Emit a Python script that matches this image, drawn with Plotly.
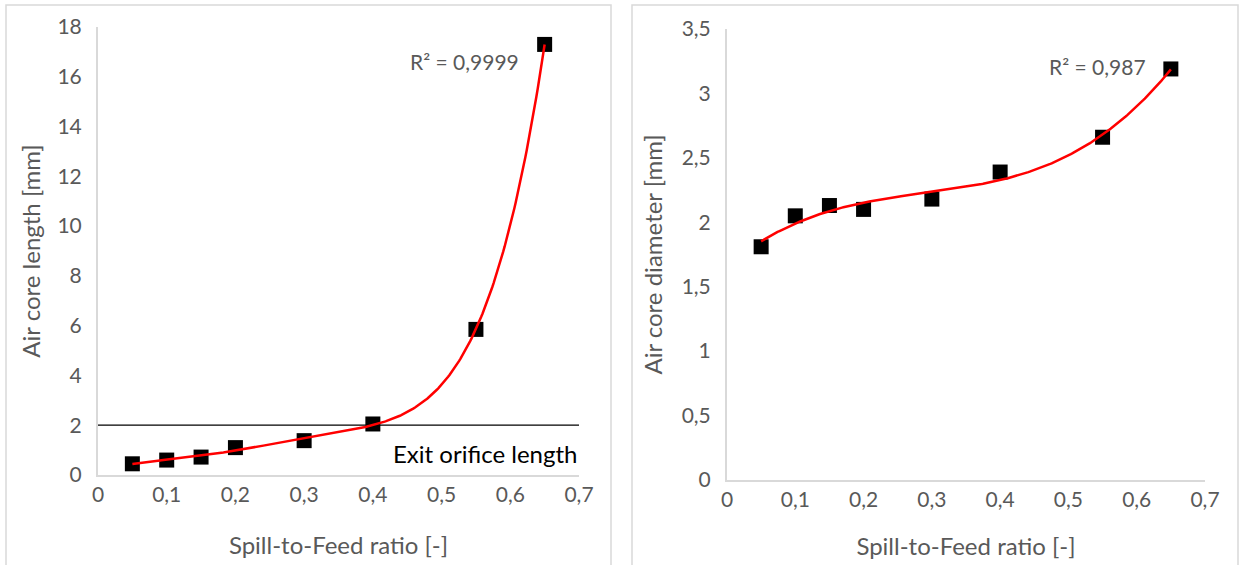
import numpy as np
import plotly.graph_objects as go

# Data
spill_ratio = [0.05, 0.10, 0.15, 0.20, 0.30, 0.40, 0.55, 0.65]
air_core_length = [0.45, 0.60, 0.72, 1.10, 1.38, 2.05, 5.85, 17.30]
air_core_diameter = [1.81, 2.05, 2.13, 2.10, 2.18, 2.39, 2.66, 3.19]
exit_orifice_length = 2.0
r2_left = "R² = 0,9999"
r2_right = "R² = 0,987"
x_ticks = [0, 0.1, 0.2, 0.3, 0.4, 0.5, 0.6, 0.7]
x_ticktext = ["0", "0,1", "0,2", "0,3", "0,4", "0,5", "0,6", "0,7"]
yl_ticks = [0, 2, 4, 6, 8, 10, 12, 14, 16, 18]
yr_ticks = [0, 0.5, 1, 1.5, 2, 2.5, 3, 3.5]
yr_ticktext = ["0", "0,5", "1", "1,5", "2", "2,5", "3", "3,5"]

W, H = 1239, 565
FONT = "Lato"
GRAY = "#595959"
AXIS = "#d9d9d9"

def px(x):
    return x / W

def py(y):
    return 1 - y / H

def fit(x, y, deg):
    c = np.polyfit(x, y, deg)
    xs = np.linspace(min(x), max(x), 300)
    return xs, np.polyval(c, xs)

xl, yl = fit(spill_ratio, air_core_length, 5)   # polynomial trendline, R² ≈ 0.9999
xr, yr = fit(spill_ratio, air_core_diameter, 3)  # cubic trendline, R² ≈ 0.987

fig = go.Figure()

# left panel
fig.add_trace(go.Scatter(x=[0, 0.7], y=[exit_orifice_length, exit_orifice_length], mode="lines",
                         line=dict(color="black", width=1.3), xaxis="x", yaxis="y", showlegend=False))
fig.add_trace(go.Scatter(x=spill_ratio, y=air_core_length, mode="markers",
                         marker=dict(symbol="square", size=15, color="black"),
                         xaxis="x", yaxis="y", showlegend=False))
fig.add_trace(go.Scatter(x=xl, y=yl, mode="lines", line=dict(color="#ff0000", width=2.5),
                         xaxis="x", yaxis="y", showlegend=False))

# right panel
fig.add_trace(go.Scatter(x=spill_ratio, y=air_core_diameter, mode="markers",
                         marker=dict(symbol="square", size=15, color="black"),
                         xaxis="x2", yaxis="y2", showlegend=False))
fig.add_trace(go.Scatter(x=xr, y=yr, mode="lines", line=dict(color="#ff0000", width=2.5),
                         xaxis="x2", yaxis="y2", showlegend=False))

tickfont = dict(family=FONT, size=21, color=GRAY)
titlefont = dict(family=FONT, size=24, color=GRAY)

common_x = dict(range=[0, 0.7], tickvals=x_ticks, ticktext=x_ticktext,
                showgrid=False, zeroline=False, showline=True, linecolor=AXIS, linewidth=2,
                ticks="", tickfont=tickfont, automargin=False)
common_y = dict(showgrid=False, zeroline=False, showline=True, linecolor=AXIS, linewidth=2,
                ticks="", tickfont=tickfont, ticklabelstandoff=10, automargin=False)

fig.update_layout(
    width=W, height=H, margin=dict(l=0, r=0, t=0, b=0),
    paper_bgcolor="white", plot_bgcolor="white",
    xaxis=dict(domain=[px(98), px(579)], anchor="y",
               title=dict(text="Spill-to-Feed ratio [-]", font=titlefont, standoff=32), **common_x),
    yaxis=dict(domain=[py(475), py(27)], anchor="x", range=[0, 18], tickvals=yl_ticks,
               title=dict(text="Air core length [mm]", font=titlefont, standoff=10), **common_y),
    xaxis2=dict(domain=[px(727), px(1205)], anchor="y2",
                title=dict(text="Spill-to-Feed ratio [-]", font=titlefont, standoff=28), **common_x),
    yaxis2=dict(domain=[py(480), py(29)], anchor="x2", range=[0, 3.5],
                tickvals=yr_ticks, ticktext=yr_ticktext,
                title=dict(text="Air core diameter [mm]", font=titlefont, standoff=12), **common_y),
    shapes=[
        dict(type="rect", xref="paper", yref="paper", x0=px(6), x1=px(611), y0=py(575), y1=py(5),
             line=dict(color="#d9d9d9", width=1.5)),
        dict(type="rect", xref="paper", yref="paper", x0=px(632), x1=px(1238), y0=py(575), y1=py(5),
             line=dict(color="#d9d9d9", width=1.5)),
    ],
    annotations=[
        dict(text=r2_left, x=px(521), y=py(62), xref="paper", yref="paper", xanchor="right", yanchor="middle",
             showarrow=False, font=dict(family=FONT, size=21, color=GRAY)),
        dict(text=r2_right, x=px(1148), y=py(67), xref="paper", yref="paper", xanchor="right", yanchor="middle",
             showarrow=False, font=dict(family=FONT, size=21, color=GRAY)),
        dict(text="Exit orifice length", x=0.7, y=0.85, xref="x", yref="y", xanchor="right", yanchor="middle",
             showarrow=False, font=dict(family=FONT, size=24, color="black")),
    ],
)

fig.write_html("out.html", config={"displayModeBar": False},
               post_script="document.body.style.margin='0';document.body.style.overflow='hidden';")
